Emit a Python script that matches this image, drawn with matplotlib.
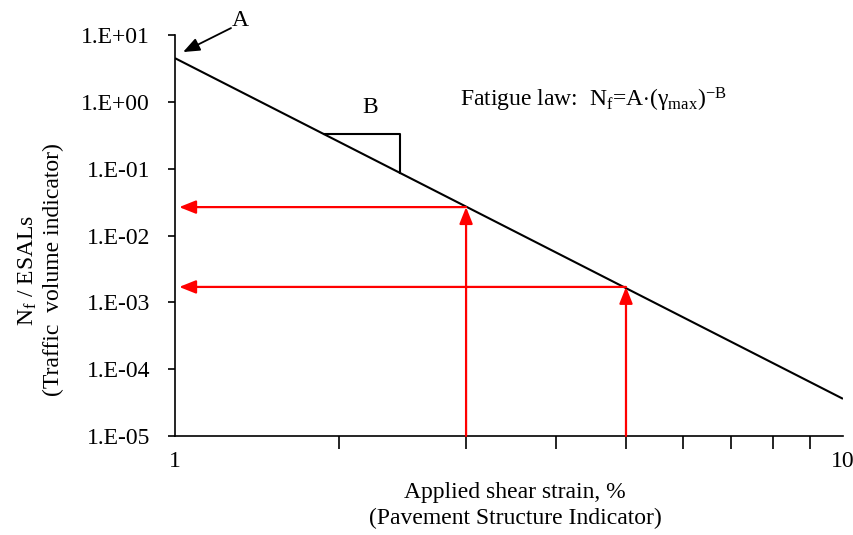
import numpy as np
import matplotlib
matplotlib.use("Agg")
import matplotlib.pyplot as plt
from matplotlib.ticker import FixedLocator, NullFormatter, NullLocator

plt.rcParams['font.family'] = ['Liberation Serif', 'DejaVu Serif']
plt.rcParams['mathtext.fontset'] = 'custom'
plt.rcParams['mathtext.rm'] = 'Liberation Serif'
plt.rcParams['mathtext.it'] = 'Liberation Serif:italic'

# fatigue line end points (strain %, Nf/ESALs)
strain_line = [1.184, 10.0]
nf_line = [4.5, 3.6e-5]

# design strains read back to the traffic axis
strain_design = [3.0, 5.0]
nf_design = [0.0266, 0.0017]

# slope triangle corners along the line
tri_strain = [1.905, 2.43]

y_ticks = [1e-5, 1e-4, 1e-3, 1e-2, 1e-1, 1e0, 1e1]
y_labels = ["1.E-05", "1.E-04", "1.E-03", "1.E-02", "1.E-01", "1.E+00", "1.E+01"]
x_minor = [2, 3, 4, 5, 6, 7, 8, 9]

FS = 17

# power law through the two end points
B = -np.log10(nf_line[1] / nf_line[0]) / np.log10(strain_line[1] / strain_line[0])
A = nf_line[0] * strain_line[0] ** B
def nf(x):
    return A * np.asarray(x, dtype=float) ** (-B)

fig = plt.figure(figsize=(8.54, 5.35), dpi=100)
ax = fig.add_axes([175/854, 1-436/535, 668/854, 401/535])
ax.set_xscale('log')
ax.set_yscale('log')
ax.set_xlim(strain_line[0], 10)
ax.set_ylim(1e-5, 1e1)

ax.plot(strain_line, nf_line, color='black', lw=1.5, solid_capstyle='butt')

# slope triangle
tx0, tx1 = tri_strain
ax.plot([tx0, tx1, tx1], [nf(tx0), nf(tx0), nf(tx1)], color='black', lw=1.5)

red = '#ff0000'
head = '-|>,head_length=1.0,head_width=0.4'
for x, y in zip(strain_design, nf_design):
    ax.annotate('', xy=(x, y), xytext=(x, 1e-5),
                arrowprops=dict(arrowstyle=head, color=red, lw=1.6,
                                shrinkA=0, shrinkB=0))
    ax.annotate('', xy=(strain_line[0], y), xytext=(x, y),
                arrowprops=dict(arrowstyle=head, color=red, lw=1.6,
                                shrinkA=0, shrinkB=3))

# "A" intercept pointer
ax.annotate('', xy=(1.215, 5.56), xytext=(1.416, 12.7),
            arrowprops=dict(arrowstyle=head, color='black', lw=1.3,
                            shrinkA=0, shrinkB=0),
            annotation_clip=False)
ax.text(0.097, 1.037, 'A', transform=ax.transAxes, fontsize=FS,
        ha='center', va='center', clip_on=False)
ax.text(0.292, 0.818, 'B', transform=ax.transAxes, fontsize=FS,
        ha='center', va='center')
ax.text(0.427, 0.838,
        r'Fatigue law:  N$_\mathrm{f}$=A$\cdot$(γ$_\mathrm{max}$)$^{\mathrm{-B}}$',
        transform=ax.transAxes, fontsize=FS, ha='left', va='center')

for s in ['top', 'right']:
    ax.spines[s].set_visible(False)
for s in ['left', 'bottom']:
    ax.spines[s].set_linewidth(1.2)

ax.yaxis.set_major_locator(FixedLocator(y_ticks))
ax.yaxis.set_minor_locator(NullLocator())
ax.set_yticks(y_ticks)
ax.set_yticklabels(y_labels)
ax.tick_params(axis='y', which='major', direction='out', length=5, width=1.2,
               labelsize=FS, pad=13)

ax.set_xticks([strain_line[0], 10])
ax.set_xticklabels(['1', '10'])
ax.xaxis.set_minor_locator(FixedLocator(x_minor))
ax.xaxis.set_minor_formatter(NullFormatter())
ax.tick_params(axis='x', which='major', length=0, labelsize=FS, pad=11)
ax.tick_params(axis='x', which='minor', direction='out', length=9, width=1.2)

fig.text(515/854, 1-506/535,
         'Applied shear strain, %\n(Pavement Structure Indicator)',
         ha='center', va='center', fontsize=FS, linespacing=1.3)
fig.text(40/854, 1-270/535,
         'N$_\\mathrm{f}$ / ESALs\n(Traffic  volume indicator)',
         ha='center', va='center', rotation=90, fontsize=FS,
         linespacing=1.25, multialignment='center')

fig.savefig('out.png', dpi=100)
